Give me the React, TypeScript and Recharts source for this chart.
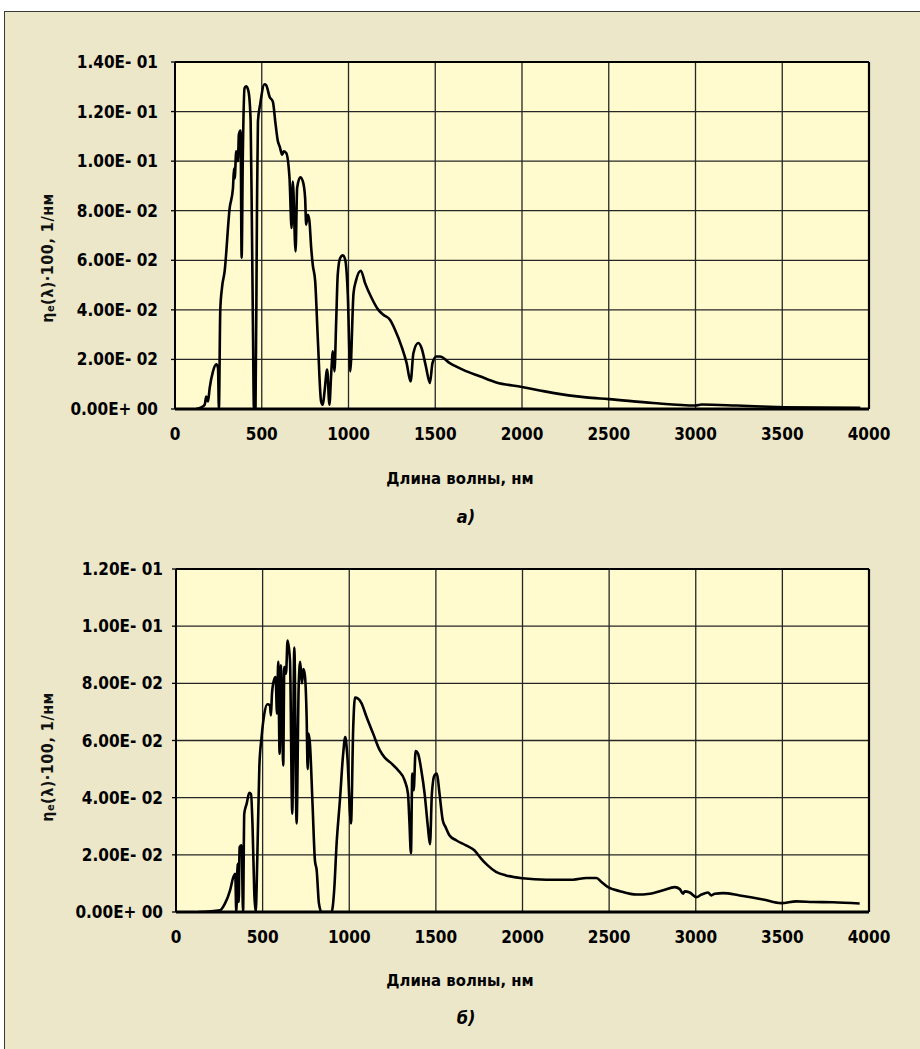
import React from 'react';
import { LineChart, Line, XAxis, YAxis, CartesianGrid, ReferenceLine } from 'recharts';

// ---------- data: panel a) ----------
const wavelengthsA = [
  123, 152, 171, 180, 190, 200, 219, 238, 248, 253, 261, 271, 286, 315, 334, 340, 344, 353, 363, 368,
  378, 384, 391, 401, 411, 424, 436, 443, 449, 455, 464, 472, 478, 491, 516, 526, 545, 564, 580, 593,
  603, 618, 626, 641, 660, 672, 679, 695, 704, 722, 737, 750, 756, 766, 775, 785, 794, 808, 823, 842,
  852, 862, 877, 890, 900, 910, 919, 929, 938, 952, 967, 981, 996, 1010, 1029, 1044, 1071, 1096, 1134, 1172,
  1201, 1239, 1268, 1306, 1335, 1358, 1374, 1402, 1421, 1446, 1469, 1484, 1506, 1527, 1584, 1661, 1757, 1852, 2000, 2102,
  2177, 2370, 2500, 2755, 3000, 3035, 3237, 3468, 3507, 3950,
];
const valuesA = [
  0, 0.0007, 0.0017, 0.005, 0.003, 0.0085, 0.0152, 0.018, 0.0165, 0, 0.04, 0.049, 0.0555, 0.081, 0.089, 0.097, 0.093, 0.104, 0.1, 0.1107,
  0.1123, 0.061, 0.1026, 0.1295, 0.1302, 0.128, 0.116, 0.0757, 0.035, 0, 0, 0.0757, 0.116, 0.123, 0.131, 0.1306, 0.126, 0.124, 0.1147, 0.108,
  0.106, 0.1026, 0.104, 0.1033, 0.0932, 0.073, 0.0918, 0.0636, 0.0892, 0.0935, 0.0918, 0.0851, 0.0744, 0.0784, 0.0757, 0.065, 0.0582, 0.0515, 0.0286, 0.0031,
  0.0017, 0.0071, 0.0159, 0.0017, 0.0139, 0.0233, 0.0152, 0.0354, 0.0542, 0.0609, 0.062, 0.0603, 0.0461, 0.0152, 0.0467, 0.052, 0.0558, 0.0507, 0.0447, 0.04,
  0.038, 0.036, 0.032, 0.0252, 0.0185, 0.0111, 0.0225, 0.0266, 0.0246, 0.0172, 0.0105, 0.0185, 0.0212, 0.0212, 0.0185, 0.0158, 0.0132, 0.0107, 0.0089, 0.0075,
  0.0065, 0.0047, 0.004, 0.0024, 0.0014, 0.0018, 0.0014, 0.0008, 0.0007, 0.0005,
];

// ---------- data: panel б) ----------
const wavelengthsB = [
  129, 254, 283, 312, 331, 342, 348, 356, 362, 367, 379, 387, 394, 408, 423, 433, 442, 452, 460, 469,
  481, 494, 510, 527, 542, 548, 554, 565, 575, 583, 590, 598, 606, 613, 619, 625, 635, 644, 658, 671,
  683, 696, 708, 717, 727, 735, 744, 754, 760, 765, 773, 788, 802, 812, 825, 840, 898, 913, 927, 946,
  965, 977, 988, 1010, 1023, 1033, 1052, 1071, 1100, 1138, 1176, 1205, 1243, 1282, 1320, 1339, 1347, 1356, 1364, 1372,
  1383, 1397, 1416, 1435, 1454, 1466, 1477, 1492, 1506, 1521, 1540, 1556, 1579, 1617, 1674, 1722, 1761, 1799, 1847, 1904,
  2000, 2138, 2292, 2369, 2427, 2456, 2494, 2562, 2658, 2735, 2812, 2879, 2908, 2927, 2936, 2965, 3004, 3033, 3071, 3090,
  3110, 3158, 3254, 3388, 3494, 3581, 3677, 3792, 3946,
];
const valuesB = [
  0, 0.0006, 0.003, 0.0076, 0.0122, 0.0134, 0, 0.0169, 0.0035, 0.0227, 0.0233, 0, 0.0344, 0.0379, 0.0417, 0.0413, 0.0297, 0.0064, 0, 0.018,
  0.0507, 0.0612, 0.0694, 0.0727, 0.0723, 0.0688, 0.0764, 0.081, 0.0822, 0.0694, 0.0875, 0.0554, 0.0863, 0.0659, 0.0513, 0.0857, 0.0834, 0.095, 0.088, 0.0344,
  0.0925, 0.031, 0.0787, 0.0875, 0.08, 0.085, 0.0828, 0.0682, 0.05, 0.0624, 0.0589, 0.0379, 0.018, 0.0146, 0.003, 0, 0, 0.0076, 0.0239, 0.039,
  0.0554, 0.0612, 0.0554, 0.031, 0.0647, 0.075, 0.0746, 0.073, 0.0682, 0.0624, 0.0566, 0.054, 0.052, 0.0496, 0.046, 0.0414, 0.032, 0.0206, 0.0484, 0.0426,
  0.0563, 0.0554, 0.0496, 0.0414, 0.0297, 0.0237, 0.0414, 0.0478, 0.0484, 0.0414, 0.032, 0.0297, 0.0268, 0.0251, 0.0233, 0.0216, 0.0187, 0.0163, 0.014, 0.0128,
  0.0118, 0.0113, 0.0113, 0.0119, 0.0119, 0.0105, 0.0087, 0.0073, 0.0061, 0.0064, 0.0076, 0.0087, 0.008, 0.0064, 0.0072, 0.0068, 0.0052, 0.0061, 0.0068, 0.0058,
  0.0064, 0.0066, 0.0058, 0.0044, 0.0031, 0.0037, 0.0035, 0.0034, 0.003,
];

const xTicks = [0, 500, 1000, 1500, 2000, 2500, 3000, 3500, 4000];
const yTicksA = [0, 0.02, 0.04, 0.06, 0.08, 0.1, 0.12, 0.14];
const yTicksB = [0, 0.02, 0.04, 0.06, 0.08, 0.1, 0.12];

const xTitle = 'Длина волны, нм';
const captionA = 'а)';
const captionB = 'б)';

const dataA = wavelengthsA.map((x, i) => ({ x, y: valuesA[i] }));
const dataB = wavelengthsB.map((x, i) => ({ x, y: valuesB[i] }));

const FONT = "'Liberation Sans Narrow', 'DejaVu Sans Condensed', 'Arial Narrow', sans-serif";
const OUTER_BG = '#EBE7C8';
const PLOT_BG = '#FFFBCF';
const GRID = '#262626';

function sci(v: number): string {
  if (v === 0) return '0.00E+ 00';
  const e = Math.floor(Math.log10(Math.abs(v)) + 1e-9);
  const m = v / Math.pow(10, e);
  return `${m.toFixed(2)}E${e < 0 ? '-' : '+'} ${String(Math.abs(e)).padStart(2, '0')}`;
}

type PanelProps = {
  data: { x: number; y: number }[];
  top: number;
  yMax: number;
  yTicks: number[];
  marginLeft: number;
  marginBottom: number;
  yTickMargin: number;
  yTitleY: number;
  titleY: number;
  captionY: number;
  caption: string;
};

function Panel(p: PanelProps) {
  const yTitle = () => (
    <text
      x={47}
      y={p.yTitleY}
      transform={`rotate(-90, 47, ${p.yTitleY})`}
      textAnchor="middle"
      dominantBaseline="central"
      fontFamily={FONT}
      fontSize={16}
      fontWeight={700}
      fill="#111"
      letterSpacing={0.5}
    >
      <tspan>η</tspan>
      <tspan fontSize={11} dy={3}>e</tspan>
      <tspan dy={-3}>(λ)·100, 1/нм</tspan>
    </text>
  );
  const xLabel = () => (
    <g>
      <text x={460} y={p.titleY} textAnchor="middle" fontFamily={FONT} fontSize={16.5} fontWeight={700} fill="#000">
        {xTitle}
      </text>
      <text x={466} y={p.captionY} textAnchor="middle" fontFamily={FONT} fontSize={18} fontWeight={700} fontStyle="italic" fill="#000">
        {p.caption}
      </text>
    </g>
  );
  const tickStyle = { fill: '#000', fontSize: 17, fontWeight: 700, fontFamily: FONT };
  return (
    <div style={{ position: 'absolute', left: 0, top: p.top, width: 920, height: 540 }}>
      <LineChart
        width={920}
        height={540}
        data={p.data}
        margin={{ top: 62, right: 51, left: p.marginLeft, bottom: p.marginBottom }}
      >
        <CartesianGrid stroke={GRID} strokeWidth={1.3} fill={PLOT_BG} fillOpacity={1} />
        <XAxis
          dataKey="x"
          type="number"
          domain={[0, 4000]}
          ticks={xTicks}
          allowDataOverflow
          tickLine={false}
          tickSize={0}
          tickMargin={19}
          height={40}
          axisLine={{ stroke: '#000', strokeWidth: 3 }}
          tick={tickStyle}
          label={xLabel}
        />
        <YAxis
          type="number"
          domain={[0, p.yMax]}
          ticks={p.yTicks}
          allowDataOverflow
          tickFormatter={sci}
          width={100}
          tickSize={4}
          tickMargin={p.yTickMargin}
          axisLine={{ stroke: '#000', strokeWidth: 2 }}
          tickLine={{ stroke: '#000', strokeWidth: 1.3 }}
          tick={tickStyle}
          label={yTitle}
        />
        <ReferenceLine x={4000} stroke="#000" strokeWidth={2.2} />
        <ReferenceLine y={p.yMax} stroke="#000" strokeWidth={2.2} />
        <Line
          dataKey="y"
          type="monotone"
          stroke="#000"
          strokeWidth={2.6}
          dot={false}
          isAnimationActive={false}
        />
      </LineChart>
    </div>
  );
}

export default function App() {
  return (
    <div style={{ position: 'absolute', left: 0, top: 0, width: 920, height: 1049, background: '#fff', overflow: 'hidden' }}>
      <div
        style={{
          position: 'absolute',
          left: 4,
          top: 11,
          width: 916,
          height: 1038,
          background: OUTER_BG,
          borderLeft: '1px solid #3a3a3a',
          borderTop: '1px solid #3a3a3a',
          boxSizing: 'border-box',
        }}
      />
      <Panel
        data={dataA}
        top={0}
        yMax={0.14}
        yTicks={yTicksA}
        marginLeft={75}
        marginBottom={91}
        yTickMargin={13}
        yTitleY={258}
        titleY={484}
        captionY={523}
        caption={captionA}
      />
      <Panel
        data={dataB}
        top={507}
        yMax={0.12}
        yTicks={yTicksB}
        marginLeft={76}
        marginBottom={95}
        yTickMargin={9}
        yTitleY={250}
        titleY={479}
        captionY={517}
        caption={captionB}
      />
    </div>
  );
}
